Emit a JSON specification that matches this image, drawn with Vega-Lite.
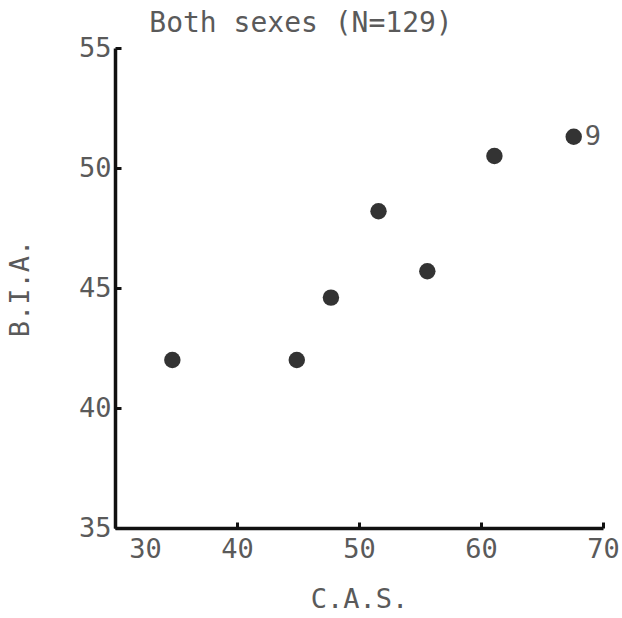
{
  "$schema": "https://vega.github.io/schema/vega-lite/v6.json",
  "autosize": "none",
  "width": 488,
  "height": 480,
  "padding": {"left": 115, "top": 48, "right": 19, "bottom": 90},
  "background": "white",
  "config": {
    "view": {"stroke": null},
    "font": "DejaVu Sans Mono"
  },
  "title": {
    "text": "Both sexes (N=129)",
    "anchor": "middle",
    "dx": -58,
    "offset": -4,
    "fontSize": 28,
    "fontWeight": "normal",
    "color": "#5a5a5a",
    "font": "DejaVu Sans Mono"
  },
  "data": {
    "values": [
      {"cas": 34.7, "bia": 42.0, "label": ""},
      {"cas": 44.9, "bia": 42.0, "label": ""},
      {"cas": 47.7, "bia": 44.6, "label": ""},
      {"cas": 51.6, "bia": 48.2, "label": ""},
      {"cas": 55.6, "bia": 45.7, "label": ""},
      {"cas": 61.1, "bia": 50.5, "label": ""},
      {"cas": 67.6, "bia": 51.3, "label": "9"}
    ]
  },
  "encoding": {
    "x": {
      "field": "cas",
      "type": "quantitative",
      "scale": {"domain": [30, 70], "nice": false, "zero": false},
      "axis": {
        "title": "C.A.S.",
        "values": [30, 40, 50, 60, 70],
        "grid": false,
        "domainColor": "#111",
        "domainWidth": 3.5,
        "tickColor": "#111",
        "tickWidth": 3,
        "tickSize": -6,
        "labelFlush": false,
        "labelFontSize": 27,
        "labelColor": "#5a5a5a",
        "labelPadding": 14,
        "labelOffset": {"condition": {"test": "datum.value == 30", "value": 30}, "value": 0},
        "titleFontSize": 27,
        "titleFontWeight": "normal",
        "titleColor": "#5a5a5a",
        "titlePadding": 24
      }
    },
    "y": {
      "field": "bia",
      "type": "quantitative",
      "scale": {"domain": [35, 55], "nice": false, "zero": false},
      "axis": {
        "title": "B.I.A.",
        "values": [35, 40, 45, 50, 55],
        "grid": false,
        "domainColor": "#111",
        "domainWidth": 3.5,
        "tickColor": "#111",
        "tickWidth": 3,
        "tickSize": -6,
        "labelFlush": false,
        "labelFontSize": 27,
        "labelColor": "#5a5a5a",
        "labelPadding": 10,
        "titleFontSize": 27,
        "titleFontWeight": "normal",
        "titleColor": "#5a5a5a",
        "titlePadding": 44
      }
    }
  },
  "layer": [
    {
      "mark": {"type": "point", "filled": true, "size": 270, "color": "#333", "opacity": 1}
    },
    {
      "mark": {"type": "text", "align": "left", "baseline": "middle", "dx": 11, "fontSize": 27, "color": "#5a5a5a", "font": "DejaVu Sans Mono"},
      "encoding": {"text": {"field": "label"}}
    }
  ]
}
